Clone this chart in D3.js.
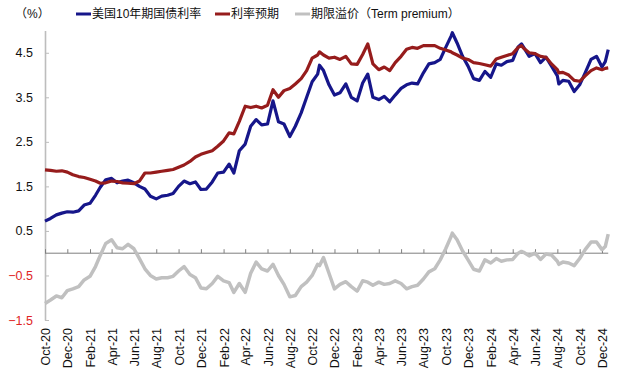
<!DOCTYPE html>
<html><head><meta charset="utf-8">
<script src="https://cdn.jsdelivr.net/npm/d3@7"></script>
<style>
body{margin:0;background:#fff;}
svg text{font-family:"Liberation Sans",Arial,"Noto Sans CJK SC",sans-serif;}
</style></head>
<body><svg id="c" width="620" height="383"></svg>
<script>
const dates = [
"2020-10-01","2020-10-16","2020-11-01","2020-11-16","2020-12-01","2020-12-16",
"2021-01-01","2021-01-16","2021-02-01","2021-02-16","2021-03-01","2021-03-16",
"2021-04-01","2021-04-16","2021-05-01","2021-05-16","2021-06-01","2021-06-16",
"2021-07-01","2021-07-16","2021-08-01","2021-08-16","2021-09-01","2021-09-16",
"2021-10-01","2021-10-16","2021-11-01","2021-11-16","2021-12-01","2021-12-16",
"2022-01-01","2022-01-16","2022-02-01","2022-02-16","2022-03-01","2022-03-16",
"2022-04-01","2022-04-16","2022-05-01","2022-05-16","2022-06-01","2022-06-16",
"2022-07-01","2022-07-16","2022-08-01","2022-08-16","2022-09-01","2022-09-16",
"2022-10-01","2022-10-16","2022-10-21","2022-11-01","2022-11-16","2022-12-01","2022-12-16",
"2023-01-01","2023-01-16","2023-02-01","2023-02-16","2023-03-02","2023-03-16",
"2023-04-01","2023-04-16","2023-05-01","2023-05-16","2023-06-01","2023-06-16",
"2023-07-01","2023-07-16","2023-08-01","2023-08-16","2023-09-01","2023-09-16",
"2023-10-01","2023-10-16","2023-10-19","2023-11-01","2023-11-16","2023-12-01","2023-12-16",
"2024-01-01","2024-01-16","2024-02-01","2024-02-16","2024-03-01","2024-03-16",
"2024-04-01","2024-04-16","2024-04-25","2024-05-01","2024-05-16","2024-06-01","2024-06-16",
"2024-07-01","2024-07-16","2024-08-01","2024-08-05","2024-08-16","2024-09-01","2024-09-16",
"2024-10-01","2024-10-16","2024-11-01","2024-11-16","2024-12-01","2024-12-10","2024-12-18"];

const yield10y = [
0.72,0.78,0.86,0.90,0.93,0.92,
0.95,1.08,1.12,1.30,1.48,1.65,
1.68,1.58,1.62,1.64,1.58,1.50,
1.44,1.28,1.22,1.28,1.30,1.34,
1.50,1.62,1.56,1.60,1.43,1.44,
1.60,1.80,1.82,2.00,1.80,2.30,
2.45,2.85,3.00,2.88,2.90,3.42,
2.95,2.90,2.62,2.85,3.15,3.50,
3.85,4.02,4.22,4.10,3.78,3.55,3.60,
3.80,3.50,3.42,3.82,4.02,3.50,
3.45,3.52,3.40,3.55,3.70,3.78,
3.82,3.80,4.05,4.25,4.28,4.35,
4.62,4.88,4.95,4.72,4.42,4.20,3.92,
3.88,4.08,3.95,4.25,4.22,4.30,
4.33,4.63,4.70,4.62,4.42,4.48,4.28,
4.40,4.20,3.98,3.80,3.88,3.86,3.63,
3.78,4.05,4.35,4.42,4.18,4.30,4.57];

const expectedRate = [
1.87,1.86,1.84,1.85,1.82,1.76,
1.72,1.70,1.66,1.62,1.57,1.58,
1.62,1.61,1.58,1.57,1.56,1.62,
1.80,1.80,1.82,1.84,1.86,1.88,
1.93,1.98,2.06,2.16,2.22,2.26,
2.30,2.40,2.52,2.70,2.68,2.96,
3.30,3.27,3.30,3.26,3.32,3.67,
3.50,3.65,3.70,3.80,3.92,4.10,
4.38,4.45,4.52,4.45,4.38,4.40,4.35,
4.42,4.25,4.24,4.46,4.70,4.25,
4.12,4.18,4.10,4.28,4.42,4.58,
4.62,4.60,4.66,4.66,4.66,4.60,
4.56,4.52,4.50,4.45,4.38,4.35,4.28,
4.26,4.23,4.20,4.36,4.40,4.44,
4.48,4.62,4.66,4.60,4.50,4.48,4.42,
4.40,4.25,4.12,4.05,4.06,4.00,3.88,
3.86,3.98,4.10,4.16,4.12,4.15,4.16];

const termPremium = [
-1.13,-1.05,-0.96,-1.00,-0.84,-0.80,
-0.75,-0.60,-0.52,-0.30,-0.05,0.22,
0.30,0.12,0.10,0.20,0.10,-0.12,
-0.35,-0.50,-0.58,-0.55,-0.55,-0.52,
-0.40,-0.30,-0.48,-0.55,-0.78,-0.80,
-0.68,-0.52,-0.62,-0.66,-0.88,-0.68,
-0.88,-0.45,-0.20,-0.35,-0.40,-0.25,
-0.50,-0.70,-0.98,-0.95,-0.75,-0.65,
-0.50,-0.25,-0.28,-0.10,-0.45,-0.80,-0.70,
-0.64,-0.75,-0.85,-0.62,-0.65,-0.72,
-0.65,-0.70,-0.68,-0.62,-0.68,-0.80,
-0.75,-0.72,-0.58,-0.42,-0.35,-0.15,
0.10,0.38,0.45,0.30,0.05,-0.15,-0.36,
-0.40,-0.15,-0.22,-0.12,-0.18,-0.15,
-0.14,0.00,0.04,0.02,-0.06,0.00,-0.14,
-0.02,-0.04,-0.18,-0.25,-0.20,-0.22,-0.28,
-0.12,0.08,0.25,0.25,0.08,0.15,0.43];

const tickDates = [
"2020-10-01","2020-12-01","2021-02-01","2021-04-01","2021-06-01","2021-08-01",
"2021-10-01","2021-12-01","2022-02-01","2022-04-01","2022-06-01","2022-08-01",
"2022-10-01","2022-12-01","2023-02-01","2023-04-01","2023-06-01","2023-08-01",
"2023-10-01","2023-12-01","2024-02-01","2024-04-01","2024-06-01","2024-08-01",
"2024-10-01","2024-12-01"];
const yTicks = [4.5,3.5,2.5,1.5,0.5,-0.5,-1.5];

const seriesNames = ["美国10年期国债利率","利率预期","期限溢价（Term premium）"];
const seriesColors = ["#16168a","#961c1c","#c0c0c0"];

const parse = d3.timeParse("%Y-%m-%d");
const fmt = d3.timeFormat("%b-%y");
const D = dates.map(parse);

const svg = d3.select("#c");
const x = d3.scaleTime().domain([parse("2020-10-01"), parse("2024-12-01")]).range([45, 602]);
const y = d3.scaleLinear().domain([-1.5, 5.0]).range([320, 30.5]);

// y axis
const ya = svg.append("g").attr("transform","translate(45,0)")
  .call(d3.axisLeft(y).tickValues(yTicks).tickFormat(d3.format(".1f")).tickSizeInner(-4).tickSizeOuter(0).tickPadding(12));
ya.select(".domain").attr("stroke","#bdbdbd").attr("stroke-width",1.6);
ya.selectAll(".tick line").attr("stroke","#bdbdbd");
ya.selectAll(".tick text").attr("font-size",12.5).attr("fill", d => d < 0 ? "#e02424" : "#111");

// x axis line at zero with ticks
const xEnd = x(parse(dates[dates.length-1]));
const xa = svg.append("g").attr("transform",`translate(0,${y(0)})`)
  .call(d3.axisBottom(x).tickValues(tickDates.map(parse)).tickFormat("").tickSizeInner(-4).tickSizeOuter(0));
xa.select(".domain").attr("d", `M45,0H${xEnd}`).attr("stroke","#7f7f7f");
xa.selectAll(".tick line").attr("stroke","#7f7f7f");

// x labels
const xl = svg.append("g").attr("transform","translate(0,328)")
  .call(d3.axisBottom(x).tickValues(tickDates.map(parse)).tickFormat(fmt).tickSize(0).tickPadding(0));
xl.select(".domain").remove();
xl.selectAll(".tick text").attr("font-size",12.5).attr("fill","#111")
  .attr("transform","rotate(-90)").attr("text-anchor","end").attr("x",0).attr("y",0).attr("dy","0.36em");

// lines
const mk = vals => d3.line().x((d,i)=>x(D[i])).y(d=>y(d))(vals);
const widths = [3.2,3.2,3.5];
[yield10y, expectedRate, termPremium].forEach((v,i)=>{
  svg.append("path").attr("d", mk(v)).attr("fill","none")
    .attr("stroke", seriesColors[i]).attr("stroke-width", widths[i]).attr("stroke-linejoin","round");
});

// legend
svg.append("text").attr("x",15).attr("y",14).attr("dy","0.35em").attr("font-size",12).attr("fill","#111").text("（%）");
const legX = [76, 215, 295];
seriesNames.forEach((n,i)=>{
  svg.append("line").attr("x1",legX[i]).attr("x2",legX[i]+15).attr("y1",14).attr("y2",14)
    .attr("stroke",seriesColors[i]).attr("stroke-width",3);
  svg.append("text").attr("x",legX[i]+16).attr("y",14).attr("dy","0.35em").attr("font-size",12).attr("fill","#111").text(n);
});
</script></body></html>
